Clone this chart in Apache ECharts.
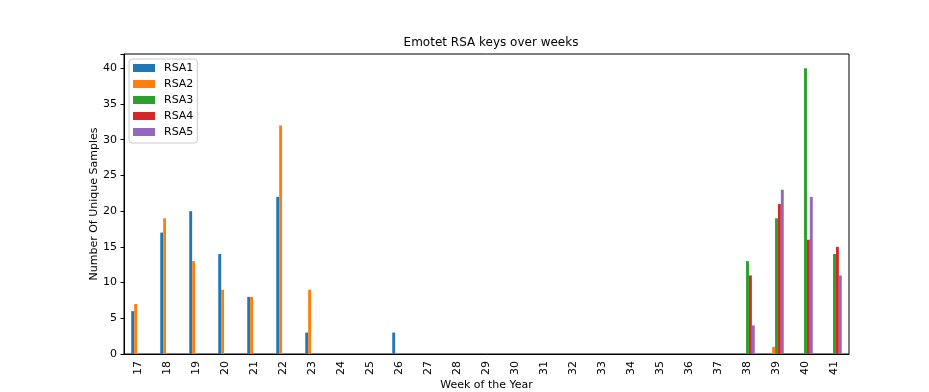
<!DOCTYPE html>
<html><head><meta charset="utf-8">
<script src="https://cdn.jsdelivr.net/npm/echarts@6/dist/echarts.min.js"></script>
<style>html,body{margin:0;padding:0;background:#fff}#c{width:929px;height:392px}</style>
</head><body><div id="c"></div>
<script>
const weeks = ['17','18','19','20','21','22','23','24','25','26','27','28','29','30','31','32','33','34','35','36','37','38','39','40','41'];
const RSA1 = [6,17,20,14,8,22,3,0,0,3,0,0,0,0,0,0,0,0,0,0,0,0,0,0,0];
const RSA2 = [7,19,13,9,8,32,9,0,0,0,0,0,0,0,0,0,0,0,0,0,0,0,1,0,0];
const RSA3 = [0,0,0,0,0,0,0,0,0,0,0,0,0,0,0,0,0,0,0,0,0,13,19,40,14];
const RSA4 = [0,0,0,0,0,0,0,0,0,0,0,0,0,0,0,0,0,0,0,0,0,11,21,16,15];
const RSA5 = [0,0,0,0,0,0,0,0,0,0,0,0,0,0,0,0,0,0,0,0,0,4,23,22,11];
const yTicks = [0,5,10,15,20,25,30,35,40];
const names = ['RSA1','RSA2','RSA3','RSA4','RSA5'];
const values = [RSA1,RSA2,RSA3,RSA4,RSA5];
const colors = ['#1f77b4','#ff7f0e','#2ca02c','#d62728','#9467bd'];
const font = 'DejaVu Sans';
const chart = echarts.init(document.getElementById('c'), null, {renderer:'canvas'});
chart.setOption({
  animation: false,
  backgroundColor: '#fff',
  color: colors,
  title: {text: 'Emotet RSA keys over weeks', left: 486, top: 32, textAlign: 'center',
    textStyle: {fontFamily: font, fontSize: 12, fontWeight: 'normal', color: '#000'}},
  legend: {orient: 'vertical', left: 129, top: 59, itemWidth: 22, itemHeight: 8, itemGap: 4,
    backgroundColor: '#fff', borderColor: '#ccc', borderWidth: 1, borderRadius: 3, padding: [3, 4, 5, 4],
    textStyle: {fontFamily: font, fontSize: 11, lineHeight: 12, color: '#000', padding: [0, 0, 0, 4]}, icon: 'rect', data: names},
  grid: {left: 124, right: 80, top: 54, bottom: 38, containLabel: false, outerBoundsMode: 'none',
    show: true, borderColor: '#000', borderWidth: 1, backgroundColor: 'transparent'},
  xAxis: {type: 'category', data: weeks, name: 'Week of the Year', nameLocation: 'middle', nameGap: 26, nameMoveOverlap: false,
    nameTextStyle: {fontFamily: font, fontSize: 11, color: '#000'},
    axisLine: {lineStyle: {color: '#000'}},
    axisTick: {alignWithLabel: true, length: 3.5, lineStyle: {color: '#000'}},
    axisLabel: {rotate: 90, fontFamily: font, fontSize: 11, color: '#000', margin: 7, interval: 0}},
  yAxis: {type: 'value', min: 0, max: 42, interval: 5, name: 'Number Of Unique Samples', nameLocation: 'middle', nameGap: 24, nameMoveOverlap: false,
    nameTextStyle: {fontFamily: font, fontSize: 11, color: '#000'},
    splitLine: {show: false},
    axisLine: {show: true, lineStyle: {color: '#000'}},
    axisTick: {show: true, length: 3.5, lineStyle: {color: '#000'}},
    axisLabel: {fontFamily: font, fontSize: 11, color: '#000', margin: 7,
      formatter: v => yTicks.includes(v) ? String(v) : ''}},
  series: names.map((n, i) => ({name: n, type: 'bar', data: values[i], barGap: '0%', barCategoryGap: '50%'}))
});
</script></body></html>
